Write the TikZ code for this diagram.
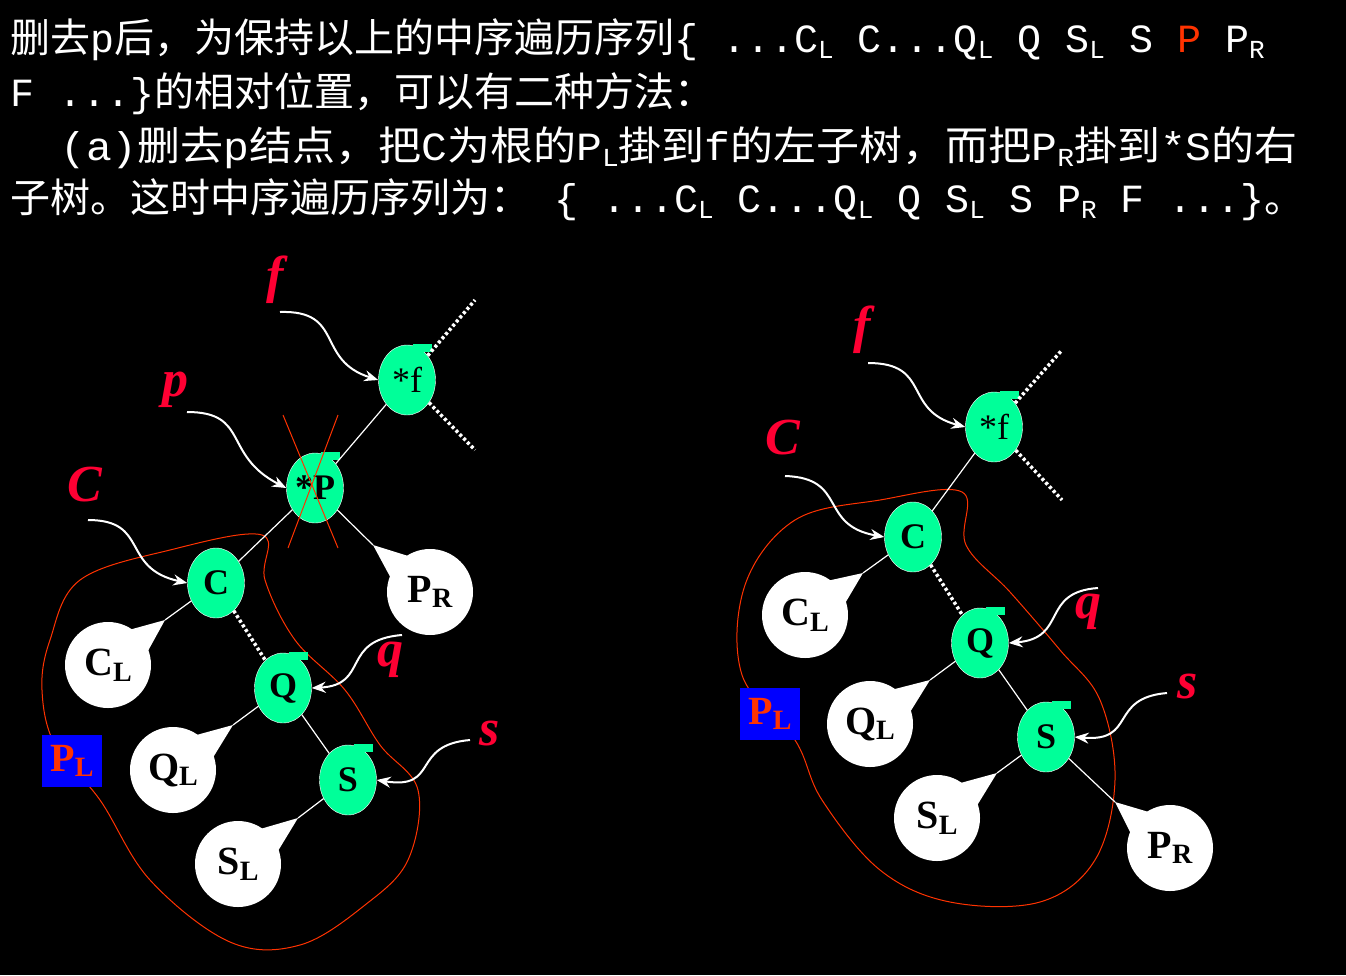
\documentclass[tikz,border=0pt]{standalone}
\usepackage{fontspec}
\setmainfont{Liberation Serif}
\newfontfamily\cjk{Noto Sans CJK SC}
\newfontfamily\lmono{Liberation Mono}
\usetikzlibrary{calc,arrows.meta,shapes.geometric}
\newcommand{\LT}[2]{{\lmono #1\raisebox{-0.3ex}{\fontsize{26}{26}\selectfont #2}}}
\begin{document}
\begin{tikzpicture}[x=1pt,y=-1pt,
  gn/.style={ellipse,draw=white,fill=greenn,minimum width=57pt,minimum height=70pt,inner sep=0pt,font=\fontsize{36}{36}\selectfont\bfseries},
  wn/.style={circle,fill=white,minimum size=86pt,inner sep=0pt,font=\fontsize{40}{40}\selectfont\bfseries},
  edge/.style={white,line width=1.2pt},
  dotl/.style={white,line width=3.5pt,dash pattern=on 3pt off 2.5pt},
  lab/.style={text=labred,font=\fontsize{52}{52}\selectfont\bfseries\itshape},
  ptr/.style={white,line width=2pt,-{Stealth[length=14pt,width=11pt]}},
  loop/.style={draw=orred,line width=1pt},
  tt/.style={anchor=base west,text=white,inner sep=0pt,font=\fontsize{40}{40}\selectfont\cjk}
]
\definecolor{greenn}{RGB}{0,255,153}
\definecolor{labred}{RGB}{255,0,51}
\definecolor{orred}{RGB}{255,51,0}
\fill[black] (0,0) rectangle (1346,975);
\useasboundingbox (0,0) rectangle (1346,975);
% text
\node[tt] (t1) at (10,52) {删去\LT{p}{}后，为保持以上的中序遍历序列\LT{\{ ...C}{L}\LT{ C...Q}{L}\LT{ Q S}{L}\LT{ S }{}{\lmono\color{orred}P}\LT{ P}{R}};
\node[tt] (t2) at (10,106) {\LT{F ...\}}{}的相对位置，可以有二种方法：};
\node[tt] (t3) at (60,160) {\scalebox{1.075}[1]{\LT{(a)}{}删去\LT{p}{}结点，把\LT{C}{}为根的\LT{P}{L}掛到\LT{f}{}的左子树，而把\LT{P}{R}掛到\LT{*S}{}的右}};
\node[tt] (t4) at (10,212) {子树。这时中序遍历序列为：\LT{  \{ ...C}{L}\LT{ C...Q}{L}\LT{ Q S}{L}\LT{ S P}{R}\LT{ F ...\}}{}。};
% macros
\newcommand{\bub}[2]{% name, tip coord
  \fill[white] (#2) -- ($(#1)!40pt!22:(#2)$) -- ($(#1)!40pt!-22:(#2)$) -- cycle;}
% ---------- left tree ----------
\draw[loop] plot[smooth cycle,tension=0.6] coordinates {(50,640) (80,580) (170,550) (262,535) (265,580) (295,640) (345,690) (380,745) (418,790) (408,860) (365,905) (300,945) (230,942) (150,880) (100,800) (55,745) (42,690)};
\coordinate (fa) at (475,300); \coordinate (fb) at (475,450);
\node[gn] (f1) at (407,380) {\mdseries *f};
\node[gn] (p1) at (315,488) {*P};
\node[gn] (c1) at (216,583) {C};
\node[gn] (q1) at (283,688) {Q};
\node[gn] (s1) at (348,780) {S};
\foreach \n in {f1,p1,q1,s1}{\fill[greenn] ($(\n)+(6,-36)$) rectangle ($(\n)+(25,-28)$);}
\draw[dotl] (f1) -- (fa); \draw[dotl] (f1) -- (fb);
\draw[edge] (f1) -- (p1); \draw[edge] (p1) -- (c1); \draw[dotl] (c1) -- (q1); \draw[edge] (q1) -- (s1);
\coordinate (tpr) at (373,545); \coordinate (tcl) at (165,620); \coordinate (tql) at (233,725); \coordinate (tsl) at (298,818);
\node[wn] (pr1) at (430,592) {P\raisebox{-0.3ex}{\fontsize{28}{28}\selectfont R}};
\node[wn] (cl1) at (108,665) {C\raisebox{-0.3ex}{\fontsize{28}{28}\selectfont L}};
\node[wn] (ql1) at (173,770) {Q\raisebox{-0.3ex}{\fontsize{28}{28}\selectfont L}};
\node[wn] (sl1) at (238,864) {S\raisebox{-0.3ex}{\fontsize{28}{28}\selectfont L}};
\bub{pr1}{tpr} \bub{cl1}{tcl} \bub{ql1}{tql} \bub{sl1}{tsl}
\draw[edge] (p1) -- (tpr); \draw[edge] (c1) -- (tcl); \draw[edge] (q1) -- (tql); \draw[edge] (s1) -- (tsl);
\coordinate (xa) at (283,415); \coordinate (xb) at (338,548); \coordinate (xc) at (338,415); \coordinate (xd) at (288,548);
\draw[orred,line width=1pt] (xa) -- (xb); \draw[orred,line width=1pt] (xc) -- (xd);
\node[lab] (lf1) at (275,280) {f};
\node[lab] (lp1) at (175,390) {p};
\node[lab] (lc1) at (85,485) {C};
\node[lab] (lq1) at (390,660) {q};
\node[lab] (ls1) at (490,733) {s};
\coordinate (af1) at (280,312); \coordinate (ap1) at (187,412); \coordinate (ac1) at (88,520); \coordinate (aq1) at (402,635); \coordinate (as1) at (470,740);
\draw[ptr] (af1) .. controls (345,310) and (315,360) .. (f1.west);
\draw[ptr] (ap1) .. controls (250,412) and (222,455) .. (p1.west);
\draw[ptr] (ac1) .. controls (150,520) and (120,568) .. (c1.west);
\draw[ptr] (aq1) .. controls (340,640) and (370,685) .. (q1.east);
\draw[ptr] (as1) .. controls (410,745) and (440,790) .. (s1.east);
\node[fill=blue,minimum width=60pt,minimum height=52pt,inner sep=0pt] (pl1) at (72,761) {};
\node[text=orred,font=\fontsize{40}{40}\selectfont\bfseries] at (pl1) {P\raisebox{-0.3ex}{\fontsize{28}{28}\selectfont L}};
% ---------- right tree ----------
\draw[loop] plot[smooth cycle,tension=0.6] coordinates {(745,585) (795,520) (880,500) (962,492) (966,545) (1010,592) (1060,650) (1100,700) (1115,780) (1095,860) (1040,902) (950,902) (880,870) (822,800) (795,740) (742,675)};
\coordinate (fa2) at (1062,350); \coordinate (fb2) at (1062,500);
\node[gn] (f2) at (994,427) {\mdseries *f};
\node[gn] (c2) at (913,537) {C};
\node[gn] (q2) at (980,643) {Q};
\node[gn] (s2) at (1046,737) {S};
\foreach \n in {f2,q2,s2}{\fill[greenn] ($(\n)+(6,-36)$) rectangle ($(\n)+(25,-28)$);}
\draw[dotl] (f2) -- (fa2); \draw[dotl] (f2) -- (fb2);
\draw[edge] (f2) -- (c2); \draw[dotl] (c2) -- (q2); \draw[edge] (q2) -- (s2);
\coordinate (tcl2) at (863,573); \coordinate (tql2) at (930,680); \coordinate (tsl2) at (997,773); \coordinate (tpr2) at (1115,802);
\node[wn] (cl2) at (805,615) {C\raisebox{-0.3ex}{\fontsize{28}{28}\selectfont L}};
\node[wn] (ql2) at (870,724) {Q\raisebox{-0.3ex}{\fontsize{28}{28}\selectfont L}};
\node[wn] (sl2) at (937,818) {S\raisebox{-0.3ex}{\fontsize{28}{28}\selectfont L}};
\node[wn] (pr2) at (1170,848) {P\raisebox{-0.3ex}{\fontsize{28}{28}\selectfont R}};
\bub{cl2}{tcl2} \bub{ql2}{tql2} \bub{sl2}{tsl2} \bub{pr2}{tpr2}
\draw[edge] (c2) -- (tcl2); \draw[edge] (q2) -- (tql2); \draw[edge] (s2) -- (tsl2); \draw[edge] (s2) -- (tpr2);
\node[lab] (lf2) at (862,330) {f};
\node[lab] (lc2) at (783,438) {C};
\node[lab] (lq2) at (1088,612) {q};
\node[lab] (ls2) at (1188,686) {s};
\coordinate (af2) at (868,363); \coordinate (ac2) at (785,476); \coordinate (aq2) at (1098,588); \coordinate (as2) at (1167,693);
\draw[ptr] (af2) .. controls (932,363) and (902,410) .. (f2.west);
\draw[ptr] (ac2) .. controls (848,478) and (818,525) .. (c2.west);
\draw[ptr] (aq2) .. controls (1040,592) and (1068,638) .. (q2.east);
\draw[ptr] (as2) .. controls (1108,698) and (1137,742) .. (s2.east);
\node[fill=blue,minimum width=60pt,minimum height=52pt,inner sep=0pt] (pl2) at (770,714) {};
\node[text=orred,font=\fontsize{40}{40}\selectfont\bfseries] at (pl2) {P\raisebox{-0.3ex}{\fontsize{28}{28}\selectfont L}};
\end{tikzpicture}
\end{document}
